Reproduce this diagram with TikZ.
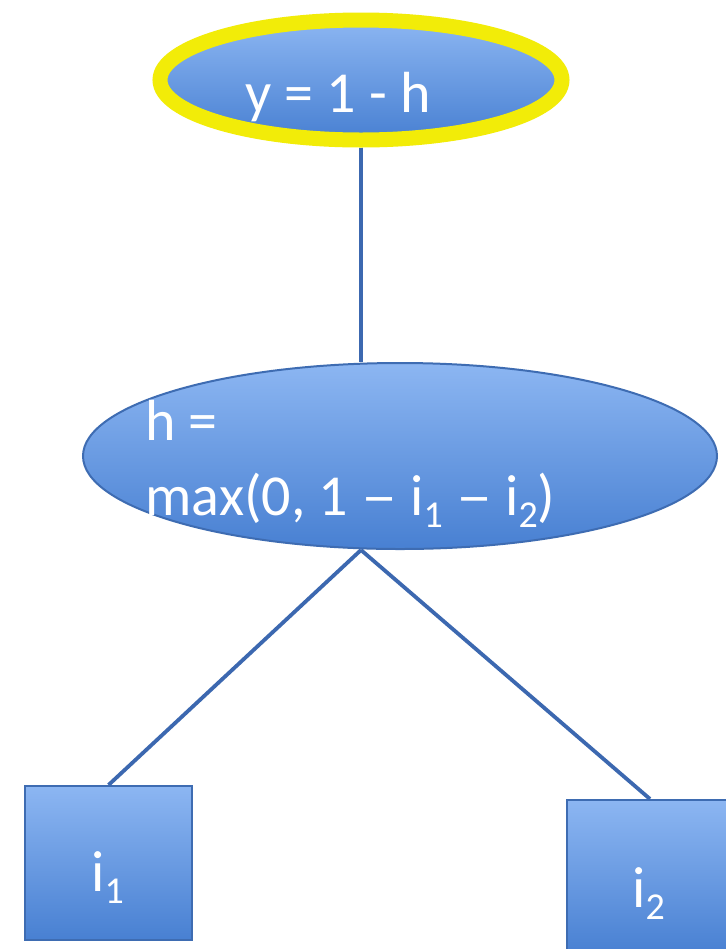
\documentclass[tikz,border=0pt]{standalone}
\usepackage{fontspec}
\usepackage{graphicx}
\setmainfont{Carlito}
\usetikzlibrary{shapes.geometric}
\definecolor{bluetop}{RGB}{140,182,242}
\definecolor{bluebot}{RGB}{72,128,210}
\definecolor{blueedge}{RGB}{62,108,178}
\definecolor{lineblue}{RGB}{60,104,176}
\definecolor{hiyellow}{RGB}{242,236,8}
\newcommand{\mysub}[1]{\raisebox{-6pt}{\fontsize{19}{19}\selectfont #1}}
\newcommand{\mydash}{\scalebox{1.25}[1]{–}}
\begin{document}
\begin{tikzpicture}[x=0.5pt,y=-0.5pt,
  blueshape/.style={top color=bluetop, bottom color=bluebot, draw=blueedge, line width=1pt},
  conn/.style={draw=lineblue, line width=1.9pt},
  lbl/.style={text=white, font=\fontsize{29}{34}\selectfont, inner sep=0pt}]
\clip (0,0) rectangle (726,949);
\fill[white] (0,0) rectangle (726,949);
% top ellipse
\node[ellipse, top color=bluetop, bottom color=bluebot, draw=hiyellow, line width=7.5pt,
      minimum width=201pt, minimum height=60pt, inner sep=0pt] (top) at (361,80) {};
\node[lbl, anchor=base west] (ytext) at (245,112) {y = 1 - h};
% middle ellipse
\node[ellipse, blueshape, minimum width=317pt, minimum height=93pt, inner sep=0pt] (mid) at (400,456) {};
\node[lbl, anchor=base west] (htext) at (145,440) {h =};
\node[lbl, anchor=base west] (maxtext) at (145,515) {max(0, 1 \mydash{} i\mysub{1} \mydash{} i\mysub{2})};
% boxes
\node[rectangle, blueshape, minimum width=83.5pt, minimum height=77pt, inner sep=0pt] (i1) at (108.5,863) {};
\node[lbl, anchor=base west] (i1text) at (91,891) {i\mysub{1}};
\node[rectangle, blueshape, minimum width=83.5pt, minimum height=77pt, inner sep=0pt] (i2) at (650,877) {};
\node[lbl, anchor=base west] (i2text) at (632,907) {i\mysub{2}};
% connectors
\coordinate (midtop) at (top.south |- mid.north);
\coordinate (midbot) at (top.south |- mid.south);
\draw[conn] (top.south) -- (midtop);
\draw[conn] (midbot) -- (i1.north);
\draw[conn] (midbot) -- (i2.north);
\end{tikzpicture}
\end{document}
